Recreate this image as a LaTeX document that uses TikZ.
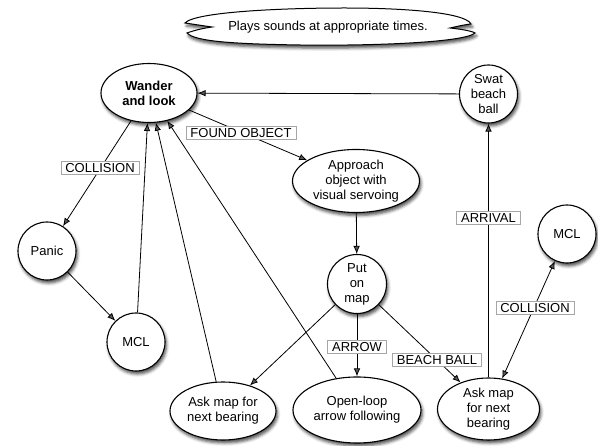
\documentclass[tikz,border=0pt]{standalone}
\usepackage{fontspec}
\setmainfont{Liberation Sans}
\usetikzlibrary{arrows.meta,shapes.geometric,shadows.blur}
\begin{document}
\begin{tikzpicture}[x=1pt,y=-1pt,
  font=\fontsize{13}{15}\selectfont,
  shad/.style={blur shadow={shadow xshift=1.5pt,shadow yshift=-3pt,shadow blur radius=3pt,shadow opacity=70}},
  st/.style={draw=black,line width=1.1pt,fill=white,align=center,inner sep=0pt,shad},
  ell/.style={st,ellipse},
  circ/.style={st,circle,minimum size=58pt},
  lab/.style={draw=black!35,line width=0.6pt,fill=white,inner xsep=4.5pt,inner ysep=2pt,text height=9.5pt,text depth=0pt},
  conn/.style={line width=0.8pt,-{Latex[length=8pt,width=6.5pt]}},
  conn2/.style={line width=0.8pt,{Latex[length=8pt,width=6.5pt]}-{Latex[length=8pt,width=6.5pt]}},
]
\useasboundingbox (0,0) rectangle (598,446);

% cloud
\path[draw=black,line width=1pt,fill=white,shad]
  (185,23) .. controls (195,12) and (280,8) .. (345,8)
  .. controls (400,8) and (465,12) .. (471,24)
  .. controls (462,25) and (455,27) .. (450,28)
  .. controls (460,29) and (472,31) .. (475,33)
  .. controls (465,42) and (380,46) .. (300,45)
  .. controls (240,44) and (195,42) .. (187,33)
  .. controls (195,30) and (205,28) .. (212,27)
  .. controls (205,26) and (192,24) .. (185,23) -- cycle;
\node (cloud) at (328,27) {Plays sounds at appropriate times.};

% nodes
\node[ell,minimum width=96pt,minimum height=59pt,font=\fontsize{13}{15}\selectfont\bfseries] (wander) at (149,93) {Wander\\and look};
\node[circ] (swat) at (488.5,94) {Swat\\beach\\ball};
\node[ell,minimum width=127pt,minimum height=63pt] (approach) at (356,181) {Approach\\object with\\visual servoing};
\node[circ] (panic) at (47,251) {Panic};
\node[circ] (mclL) at (136,342) {MCL};
\node[circ,minimum size=59pt] (put) at (357,284) {Put\\on\\map};
\node[ell,minimum width=106pt,minimum height=58pt] (askL) at (223,411) {Ask map for\\next bearing};
\node[ell,minimum width=128pt,minimum height=66pt] (open) at (357,410) {Open-loop\\arrow following};
\node[ell,minimum width=102pt,minimum height=62pt] (askR) at (488.5,409) {Ask map\\for next\\bearing};
\node[circ] (mclR) at (567,234) {MCL};

% connectors
\draw[conn] (swat) -- (wander);
\draw[conn] (wander) -- (approach);
\draw[conn] (wander) -- (panic);
\draw[conn] (panic) -- (mclL);
\draw[conn] (mclL) -- (wander);
\draw[conn] (askL) -- (wander);
\draw[conn] (open) -- (wander);
\draw[conn] (approach) -- (put);
\draw[conn] (put) -- (askL);
\draw[conn] (put) -- (open);
\draw[conn] (put) -- (askR);
\draw[conn] (askR) -- (swat);
\draw[conn2] (askR) -- (mclR);

% labels
\node[lab] (lfound) at (241,133) {FOUND OBJECT};
\node[lab] (lcollL) at (100,168) {COLLISION};
\node[lab] (larrow) at (357,347) {ARROW};
\node[lab] (lbeach) at (437,360) {BEACH BALL};
\node[lab] (larriv) at (488.5,218) {ARRIVAL};
\node[lab] (lcollR) at (535,308) {COLLISION};
\end{tikzpicture}
\end{document}
